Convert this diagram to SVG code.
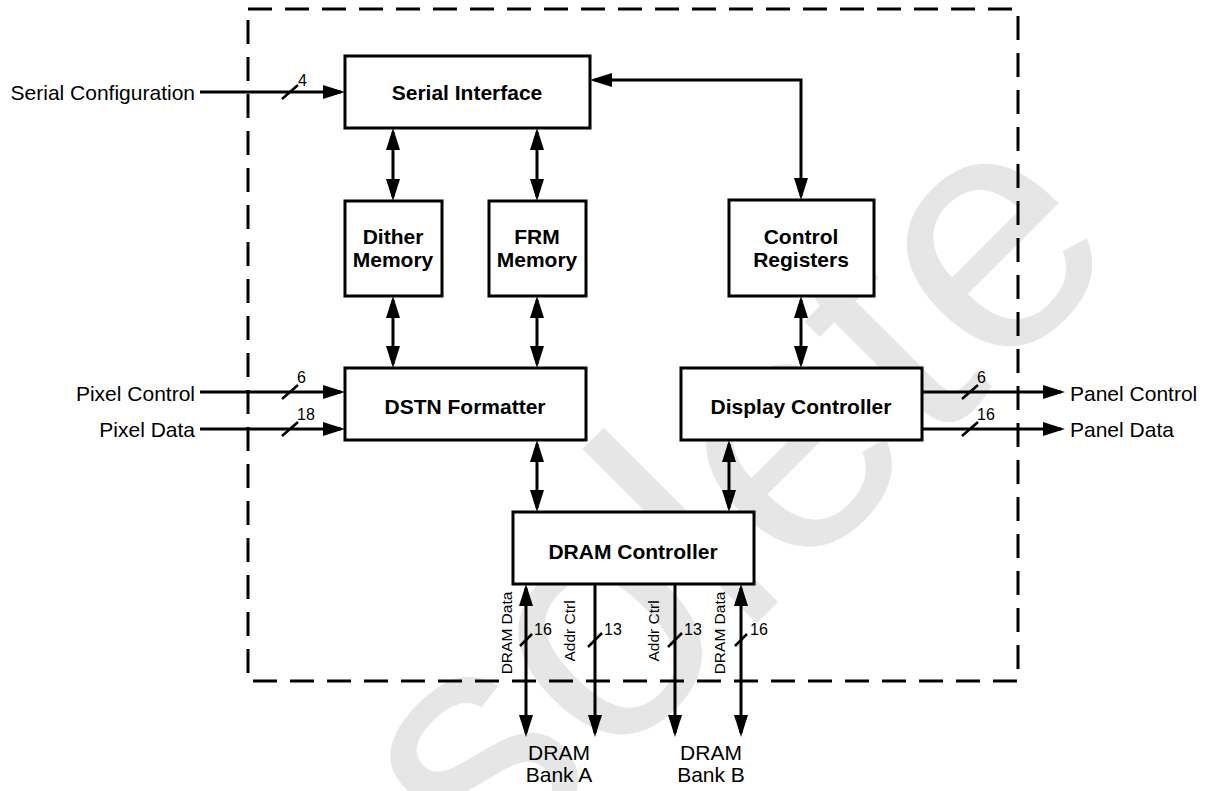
<svg xmlns="http://www.w3.org/2000/svg" width="1208" height="791" viewBox="0 0 1208 791">
<style>
.box{fill:#fff;stroke:#000;stroke-width:3}
.ln{fill:none;stroke:#000;stroke-width:3}
.sl{fill:none;stroke:#000;stroke-width:2.5}
.dash{fill:none;stroke:#000;stroke-width:3;stroke-dasharray:24 13}
.t{font-family:"Liberation Sans",Arial,sans-serif;font-size:21px;fill:#000}
.b{font-weight:bold;text-anchor:middle}
.n{font-family:"Liberation Sans",Arial,sans-serif;font-size:16px;fill:#000}
.r{font-family:"Liberation Sans",Arial,sans-serif;font-size:15.5px;fill:#000;text-anchor:middle}
.wm{font-family:"Liberation Sans",Arial,sans-serif;font-size:340px;fill:#e6e6e6}
</style>
<defs>
<marker id="ah" viewBox="0 0 22 14" refX="18" refY="7" markerWidth="22" markerHeight="14" markerUnits="userSpaceOnUse" orient="auto-start-reverse">
<path d="M0,0 L22,7 L0,14 Z" fill="#000"/>
</marker>
</defs>
<rect width="1208" height="791" fill="#fff"/>
<text class="wm" transform="translate(166,1214) rotate(-45)">Obsolete</text>
<rect class="dash" x="248" y="9" width="770" height="672"/>
<g id="connectors">
<path class="ln" d="M200,92 H341" marker-end="url(#ah)"/>
<path class="ln" d="M594,80 H801 V196" marker-start="url(#ah)" marker-end="url(#ah)"/>
<path class="ln" d="M393,132 V197" marker-start="url(#ah)" marker-end="url(#ah)"/>
<path class="ln" d="M537,132 V197" marker-start="url(#ah)" marker-end="url(#ah)"/>
<path class="ln" d="M393,300 V364" marker-start="url(#ah)" marker-end="url(#ah)"/>
<path class="ln" d="M537,300 V364" marker-start="url(#ah)" marker-end="url(#ah)"/>
<path class="ln" d="M801,300 V364" marker-start="url(#ah)" marker-end="url(#ah)"/>
<path class="ln" d="M537,444 V508" marker-start="url(#ah)" marker-end="url(#ah)"/>
<path class="ln" d="M729,444 V508" marker-start="url(#ah)" marker-end="url(#ah)"/>
<path class="ln" d="M200,392 H341" marker-end="url(#ah)"/>
<path class="ln" d="M200,429 H341" marker-end="url(#ah)"/>
<path class="ln" d="M922,392 H1061" marker-end="url(#ah)"/>
<path class="ln" d="M922,429 H1061" marker-end="url(#ah)"/>
<path class="ln" d="M526,588 V733" marker-start="url(#ah)" marker-end="url(#ah)"/>
<path class="ln" d="M595,584 V733" marker-end="url(#ah)"/>
<path class="ln" d="M675,584 V733" marker-end="url(#ah)"/>
<path class="ln" d="M741,588 V733" marker-start="url(#ah)" marker-end="url(#ah)"/>
<path class="sl" d="M282,99 L298,85 M282,399 L298,385 M282,436 L298,422 M962,399 L978,385 M962,436 L978,422 M520,646 L532,634 M588,647 L602,633 M668,647 L682,633 M735,646 L747,634"/>
<text class="n" x="298" y="86">4</text>
<text class="n" x="297" y="383">6</text>
<text class="n" x="297" y="420">18</text>
<text class="n" x="977" y="383">6</text>
<text class="n" x="977" y="420">16</text>
<text class="n" x="534" y="635">16</text>
<text class="n" x="604" y="635">13</text>
<text class="n" x="684" y="635">13</text>
<text class="n" x="750" y="635">16</text>
<text class="r" transform="translate(512,633) rotate(-90)">DRAM Data</text>
<text class="r" transform="translate(575,631) rotate(-90)">Addr Ctrl</text>
<text class="r" transform="translate(659,631) rotate(-90)">Addr Ctrl</text>
<text class="r" transform="translate(725,633) rotate(-90)">DRAM Data</text>
</g>
<g id="ext-serial-config"><text class="t" x="195" y="100" text-anchor="end">Serial Configuration</text></g>
<g id="ext-pixel-control"><text class="t" x="195" y="401" text-anchor="end">Pixel Control</text></g>
<g id="ext-pixel-data"><text class="t" x="195" y="437" text-anchor="end">Pixel Data</text></g>
<g id="ext-panel-control"><text class="t" x="1070" y="401">Panel Control</text></g>
<g id="ext-panel-data"><text class="t" x="1070" y="437">Panel Data</text></g>
<g id="ext-bank-a"><text class="t" x="559" y="760" text-anchor="middle">DRAM</text><text class="t" x="559" y="782" text-anchor="middle">Bank A</text></g>
<g id="ext-bank-b"><text class="t" x="711" y="760" text-anchor="middle">DRAM</text><text class="t" x="711" y="782" text-anchor="middle">Bank B</text></g>
<g id="serial-interface"><rect class="box" x="345" y="56" width="245" height="72"/><text class="t b" x="467" y="100">Serial Interface</text></g>
<g id="dither-memory"><rect class="box" x="345" y="201" width="97" height="95"/><text class="t b" x="393" y="244">Dither</text><text class="t b" x="393" y="267">Memory</text></g>
<g id="frm-memory"><rect class="box" x="489" y="201" width="97" height="95"/><text class="t b" x="537" y="244">FRM</text><text class="t b" x="537" y="267">Memory</text></g>
<g id="control-registers"><rect class="box" x="729" y="200" width="145" height="96"/><text class="t b" x="801" y="244">Control</text><text class="t b" x="801" y="267">Registers</text></g>
<g id="dstn-formatter"><rect class="box" x="345" y="368" width="241" height="72"/><text class="t b" x="465" y="414">DSTN Formatter</text></g>
<g id="display-controller"><rect class="box" x="681" y="368" width="241" height="72"/><text class="t b" x="801" y="414">Display Controller</text></g>
<g id="dram-controller"><rect class="box" x="513" y="512" width="241" height="72"/><text class="t b" x="633" y="559">DRAM Controller</text></g>
</svg>
